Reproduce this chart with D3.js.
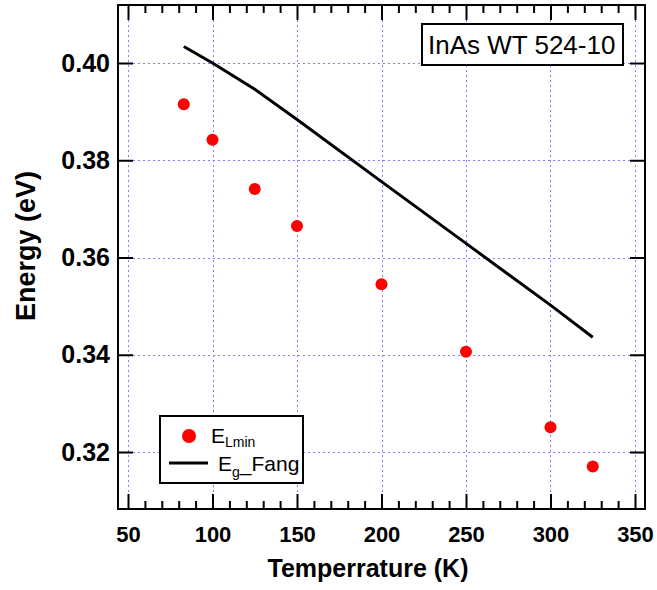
<!DOCTYPE html>
<html>
<head>
<meta charset="utf-8">
<script src="https://cdn.jsdelivr.net/npm/d3@7"></script>
<style>
  html, body { margin: 0; padding: 0; background: #fff; }
  svg { display: block; }
  text { font-family: "Liberation Sans", Arial, sans-serif; }
</style>
</head>
<body>
<svg id="chart" width="657" height="590"></svg>
<script>
// ---- data ----
const tempLmin = [83, 100, 125, 150, 200, 250, 300, 325];
const energyLmin = [0.3915, 0.3842, 0.3741, 0.3665, 0.3545, 0.3406, 0.3251, 0.3170];
const tempFang = [83, 100, 125, 150, 200, 250, 300, 325];
const energyFang = [0.4034, 0.4000, 0.3946, 0.3884, 0.3756, 0.3629, 0.3502, 0.3436];
const xTicks = [50, 100, 150, 200, 250, 300, 350];
const xMinorTicks = [60, 70, 80, 90, 110, 120, 130, 140, 160, 170, 180, 190, 210, 220, 230, 240, 260, 270, 280, 290, 310, 320, 330, 340];
const yTicks = [0.32, 0.34, 0.36, 0.38, 0.40];
const xTitle = "Temperrature (K)";
const yTitle = "Energy (eV)";
const annotation = "InAs WT 524-10";

// ---- layout ----
const L = 118, R = 645, T = 5, B = 509;
const svg = d3.select("#chart");

const x = d3.scaleLinear().domain([44.08, 355.92]).range([L, R]);
const y = d3.scaleLinear().domain([0.30828, 0.41193]).range([B, T]);

// grid
const grid = svg.append("g").attr("stroke", "#7f7fff").attr("stroke-width", 1)
  .attr("stroke-dasharray", "2,3");
grid.selectAll("line.vx").data(xTicks).join("line")
  .attr("x1", d => Math.round(x(d)) + 0.5).attr("x2", d => Math.round(x(d)) + 0.5)
  .attr("y1", T).attr("y2", B);
grid.selectAll("line.hy").data(yTicks).join("line")
  .attr("y1", d => Math.round(y(d)) + 0.5).attr("y2", d => Math.round(y(d)) + 0.5)
  .attr("x1", L).attr("x2", R);

function styleAxis(g) {
  g.select(".domain").remove();
  g.selectAll(".tick line").attr("stroke", "#000").attr("stroke-width", 2);
}

// bottom axis
svg.append("g").attr("transform", `translate(0,${B})`)
  .call(d3.axisBottom(x).tickValues(xTicks).tickSize(-15).tickPadding(17).tickFormat(d3.format("d")))
  .call(styleAxis)
  .selectAll("text").attr("font-size", 22).attr("font-weight", "bold")
  .attr("font-family", "'Liberation Sans', Arial, sans-serif").attr("fill", "#000");
svg.append("g").attr("transform", `translate(0,${B})`)
  .call(d3.axisBottom(x).tickValues(xMinorTicks).tickSize(-8).tickFormat(""))
  .call(styleAxis);
// top axis
svg.append("g").attr("transform", `translate(0,${T})`)
  .call(d3.axisTop(x).tickValues(xTicks).tickSize(-15).tickFormat(""))
  .call(styleAxis);
svg.append("g").attr("transform", `translate(0,${T})`)
  .call(d3.axisTop(x).tickValues(xMinorTicks).tickSize(-8).tickFormat(""))
  .call(styleAxis);
// left axis
svg.append("g").attr("transform", `translate(${L},0)`)
  .call(d3.axisLeft(y).tickValues(yTicks).tickSize(-15).tickPadding(8).tickFormat(d3.format(".2f")))
  .call(styleAxis)
  .selectAll("text").attr("font-size", 25).attr("font-weight", "bold")
  .attr("font-family", "'Liberation Sans', Arial, sans-serif").attr("fill", "#000");
// right axis
svg.append("g").attr("transform", `translate(${R},0)`)
  .call(d3.axisRight(y).tickValues(yTicks).tickSize(-15).tickFormat(""))
  .call(styleAxis);

// frame
svg.append("rect").attr("x", L).attr("y", T).attr("width", R - L).attr("height", B - T)
  .attr("fill", "none").attr("stroke", "#000").attr("stroke-width", 2);

// Fang line
const fang = tempFang.map((t, i) => [t, energyFang[i]]);
svg.append("path").datum(fang)
  .attr("d", d3.line().x(d => x(d[0])).y(d => y(d[1])))
  .attr("fill", "none").attr("stroke", "#000").attr("stroke-width", 3);

// points
svg.append("g").selectAll("circle").data(tempLmin.map((t, i) => [t, energyLmin[i]])).join("circle")
  .attr("cx", d => x(d[0])).attr("cy", d => y(d[1])).attr("r", 6).attr("fill", "#ff0000");

// annotation box
svg.append("rect").attr("x", 422).attr("y", 24).attr("width", 201).attr("height", 41)
  .attr("fill", "#fff").attr("stroke", "#000").attr("stroke-width", 2);
svg.append("text").attr("x", 428).attr("y", 54).attr("font-size", 26).attr("fill", "#000")
  .text(annotation);

// legend
const lg = svg.append("g");
lg.append("rect").attr("x", 160).attr("y", 416).attr("width", 143).attr("height", 67)
  .attr("fill", "#fff").attr("stroke", "#000").attr("stroke-width", 2);
lg.append("circle").attr("cx", 189).attr("cy", 436).attr("r", 7).attr("fill", "#ff0000");
const t1 = lg.append("text").attr("x", 211).attr("y", 443).attr("font-size", 21).attr("fill", "#000");
t1.append("tspan").text("E");
t1.append("tspan").attr("font-size", 14).attr("dy", 4).text("Lmin");
lg.append("line").attr("x1", 169).attr("x2", 208).attr("y1", 463).attr("y2", 463)
  .attr("stroke", "#000").attr("stroke-width", 3);
const t2 = lg.append("text").attr("x", 218).attr("y", 471).attr("font-size", 21).attr("fill", "#000");
t2.append("tspan").text("E");
t2.append("tspan").attr("font-size", 14).attr("dy", 6).text("g");
t2.append("tspan").attr("dy", -6).text("_Fang");

// axis titles
svg.append("text").attr("x", 368).attr("y", 577).attr("text-anchor", "middle")
  .attr("font-size", 25).attr("font-weight", "bold").attr("fill", "#000").text(xTitle);
svg.append("text").attr("transform", "translate(35,246) rotate(-90)").attr("text-anchor", "middle")
  .attr("font-size", 27).attr("font-weight", "bold").attr("fill", "#000").text(yTitle);
</script>
</body>
</html>
